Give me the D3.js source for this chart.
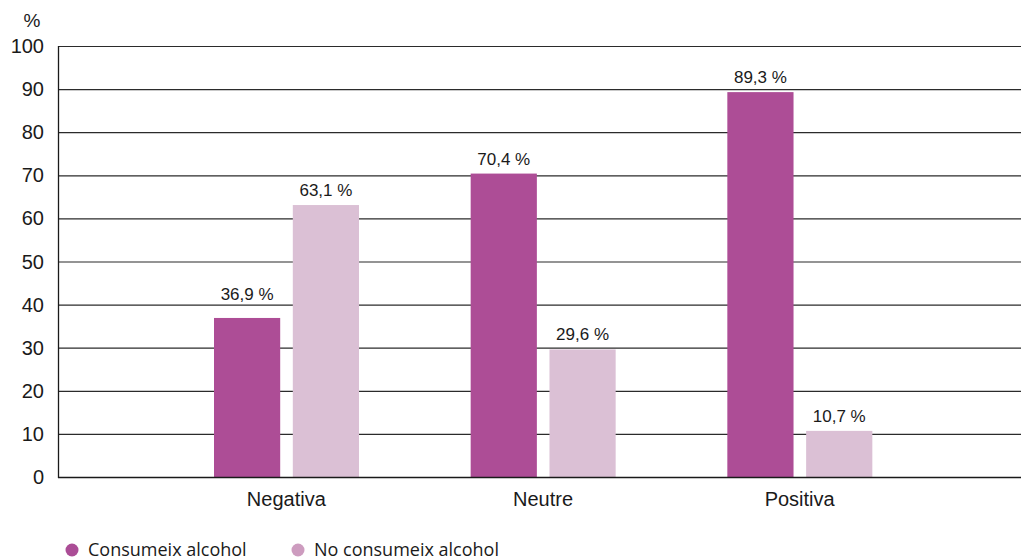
<!DOCTYPE html>
<html>
<head>
<meta charset="utf-8">
<script src="https://cdn.jsdelivr.net/npm/d3@7"></script>
<style>
  body { margin: 0; background: #fff; }
  svg text { font-family: "Liberation Sans", Arial, sans-serif; fill: #1a1a1a; }
</style>
</head>
<body>
<div id="view"></div>
<script>
var width = 1021, height = 560;

// dades
var categories = ["Negativa", "Neutre", "Positiva"];
var series = ["Consumeix alcohol", "No consumeix alcohol"];
var consumeix = [36.9, 70.4, 89.3];
var noConsumeix = [63.1, 29.6, 10.7];
var yTicks = [0, 10, 20, 30, 40, 50, 60, 70, 80, 90, 100];

var barColors = ["#ad4d96", "#dbc0d5"];
var legendColors = ["#ab4d96", "#cd9cbf"];

var rows = categories.map(function(c, i) {
	return { cat: c, values: [consumeix[i], noConsumeix[i]] };
});

var svg = d3.select("#view").append("svg")
	.attr("width", width)
	.attr("height", height);

var plotLeft = 58, plotRight = 1021, plotTop = 46, plotBottom = 477;

var y = d3.scaleLinear().domain([0, 100]).range([plotBottom, plotTop]);
var x = d3.scaleBand().domain(categories).range([158, 928]).padding(0);
var x1 = d3.scaleBand().domain(series).range([56, 201]).paddingInner(0.16);

// línies de graella
svg.append("g")
	.selectAll("line")
	.data(yTicks.filter(function(d) { return d > 0; }))
	.enter().append("line")
	.attr("x1", plotLeft).attr("x2", plotRight)
	.attr("y1", function(d) { return y(d) + 0.5; })
	.attr("y2", function(d) { return y(d) + 0.5; })
	.style("stroke", "#2b2b2b")
	.style("stroke-width", 1.2);

// etiquetes eix Y
svg.append("g")
	.selectAll("text")
	.data(yTicks)
	.enter().append("text")
	.attr("x", 44)
	.attr("y", function(d) { return y(d); })
	.attr("dy", "0.35em")
	.attr("text-anchor", "end")
	.style("font-size", "20px")
	.text(function(d) { return d; });

svg.append("text")
	.attr("x", 32).attr("y", 20)
	.attr("dy", "0.35em")
	.attr("text-anchor", "middle")
	.style("font-size", "19px")
	.text("%");

// barres
var groups = svg.selectAll(".grp")
	.data(rows).enter()
	.append("g")
	.attr("class", "grp")
	.attr("transform", function(d) { return "translate(" + x(d.cat) + ",0)"; });

groups.selectAll("rect")
	.data(function(d) { return d.values; })
	.enter().append("rect")
	.attr("x", function(d, i) { return x1(series[i]); })
	.attr("width", x1.bandwidth())
	.attr("y", function(d) { return y(d); })
	.attr("height", function(d) { return plotBottom - y(d); })
	.style("fill", function(d, i) { return barColors[i]; });

// l'etiqueta puja per sobre de la línia de graella si la trepitja
function labelY(v) {
	var base = y(v) - 9;
	yTicks.forEach(function(t) {
		var gy = y(t);
		if (t > 0 && gy > base - 13 && gy < base + 2) base = gy - 5;
	});
	return base;
}

groups.selectAll(".lbl")
	.data(function(d) { return d.values; })
	.enter().append("text")
	.attr("class", "lbl")
	.attr("x", function(d, i) { return x1(series[i]) + x1.bandwidth() / 2; })
	.attr("y", function(d) { return labelY(d); })
	.attr("text-anchor", "middle")
	.style("font-size", "17px")
	.text(function(d) { return d.toFixed(1).replace(".", ",") + " %"; });

// eixos
svg.append("line")
	.attr("x1", plotLeft + 0.5).attr("x2", plotLeft + 0.5)
	.attr("y1", plotTop).attr("y2", plotBottom + 1)
	.style("stroke", "#1a1a1a").style("stroke-width", 1.3);
svg.append("line")
	.attr("x1", plotLeft).attr("x2", plotRight)
	.attr("y1", plotBottom + 0.5).attr("y2", plotBottom + 0.5)
	.style("stroke", "#1a1a1a").style("stroke-width", 1.5);

// etiquetes categories
svg.append("g")
	.selectAll("text")
	.data(categories)
	.enter().append("text")
	.attr("x", function(d) { return x(d) + x.bandwidth() / 2; })
	.attr("y", 499)
	.attr("dy", "0.35em")
	.attr("text-anchor", "middle")
	.style("font-size", "20px")
	.text(function(d) { return d; });

// llegenda
var legX = [72, 298];
var leg = svg.selectAll(".leg")
	.data(series).enter()
	.append("g")
	.attr("class", "leg")
	.attr("transform", function(d, i) { return "translate(" + legX[i] + ",550)"; });
leg.append("circle")
	.attr("r", 6.5)
	.style("fill", function(d, i) { return legendColors[i]; });
leg.append("text")
	.attr("x", 16)
	.attr("dy", "0.35em")
	.style("font-family", "'Open Sans', sans-serif")
	.style("font-size", "18px")
	.text(function(d) { return d; });
</script>
</body>
</html>
